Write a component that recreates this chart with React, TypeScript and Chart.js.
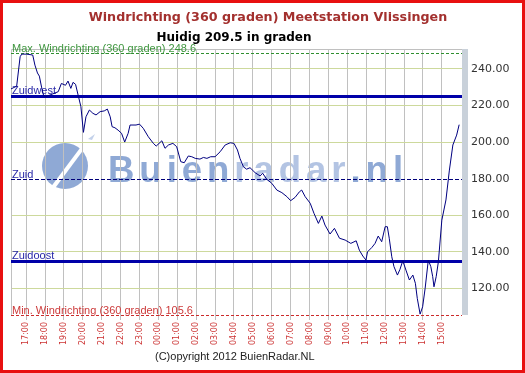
import React, { useEffect, useRef } from "react";
import { Chart, registerables } from "chart.js";

Chart.register(...registerables);

const titleText = "Windrichting (360 graden) Meetstation Vlissingen";
const subtitleText = "Huidig 209.5 in graden";
const copyrightText = "(C)opyright 2012 BuienRadar.NL";
const watermarkParts = ["Buien", "radar", ".nl"];

// minutes since 16:00 of the first day
const minutes = [
  12, 30, 41, 46, 62, 81, 88, 96, 102, 109, 115, 123, 162, 172, 185, 193, 202, 209, 217, 225,
  234, 242, 250, 261, 272, 282, 295, 308, 318, 327, 333, 342, 352, 363, 373, 384, 390, 409, 420, 432,
  448, 464, 473, 491, 501, 512, 526, 538, 551, 562, 575, 586, 597, 612, 623, 634, 646, 660, 676, 692,
  708, 720, 731, 739, 750, 760, 771, 787, 803, 811, 824, 840, 856, 872, 888, 900, 914, 928, 935, 946,
  962, 974, 988, 999, 1009, 1025, 1039, 1055, 1073, 1091, 1108, 1118, 1129, 1139, 1144, 1158, 1168, 1178, 1189, 1200,
  1207, 1213, 1221, 1228, 1239, 1247, 1256, 1266, 1277, 1288, 1296, 1302, 1311, 1319, 1327, 1337, 1345, 1351, 1355, 1362,
  1369, 1380, 1393, 1404, 1415, 1427, 1435,
];

const directions = [
  229, 230.5, 246.6, 248, 248, 247.5, 242, 237.7, 236, 230, 225.7, 224.8, 227.5, 232, 231, 233.3, 229.3, 232.6, 231.5, 225.7,
  219.3, 205.3, 213.8, 217.5, 215.7, 214.8, 216.6, 217, 218, 213.8, 208.4, 207.8, 206.5, 204.8, 200, 204.8, 209.3, 209.3, 209.8, 207.5,
  202.9, 199.3, 197.8, 200.7, 196.6, 198.4, 199.3, 197.5, 189.3, 188.7, 192.4, 192, 191.1, 190.7, 191.6, 191.1, 192, 192, 194.7, 198.4,
  199.6, 199.3, 195.7, 191.1, 186.5, 185.2, 186, 183.3, 181.5, 183, 179.7, 177.5, 173.8, 172.4, 170.2, 168, 169.8, 172.9, 173.8, 170.2,
  166.6, 161.1, 155.6, 159.6, 154.7, 149.8, 152.9, 147.5, 146.5, 144.7, 146.1, 141, 137.8, 135.6, 140.1, 142.5, 144.7, 148.7, 145.6, 153.8,
  153.8, 147.5, 137.4, 132, 127.4, 130.5, 135.2, 130.1, 124.7, 127.4, 122.9, 114.7, 106.1, 110.1, 120.2, 135.6, 132, 126.5, 121, 126.5,
  134.7, 157.4, 168.4, 184.7, 198.4, 203.8, 209.5,
];

const hourTicks = [
  60, 120, 180, 240, 300, 360, 420, 480, 540, 600, 660, 720, 780, 840, 900, 960, 1020, 1080, 1140, 1200,
  1260, 1320, 1380,
];
const hourLabels = [
  "17:00", "18:00", "19:00", "20:00", "21:00", "22:00", "23:00", "00:00", "01:00", "02:00", "03:00", "04:00",
  "05:00", "06:00", "07:00", "08:00", "09:00", "10:00", "11:00", "12:00", "13:00", "14:00", "15:00",
];
const yTicks = [120, 140, 160, 180, 200, 220, 240];

const refValues = [248.6, 225, 180, 135, 105.6];
const refLabels = [
  "Max. Windrichting (360 graden) 248.6",
  "Zuidwest",
  "Zuid",
  "Zuidoost",
  "Min. Windrichting (360 graden) 105.6",
];
const refStyles = [
  { line: "#2f8f2f", text: "#3f963f", width: 1, dash: [3, 2] },
  { line: "#0000a8", text: "#2828a8", width: 3, dash: [] },
  { line: "#00007a", text: "#2828a8", width: 1, dash: [4, 2] },
  { line: "#0000a8", text: "#2828a8", width: 3, dash: [] },
  { line: "#cc2a2a", text: "#cc3a3a", width: 1, dash: [3, 2] },
];

const decorPlugin = {
  id: "decor",
  beforeDraw(chart: any) {
    const ctx = chart.ctx;
    ctx.save();
    ctx.fillStyle = "#ffffff";
    ctx.fillRect(0, 0, chart.width, chart.height);
    // watermark logo
    ctx.fillStyle = "#8fa9d5";
    ctx.beginPath();
    ctx.arc(65, 166, 23, 0, Math.PI * 2);
    ctx.fill();
    ctx.fillStyle = "#ffffff";
    ctx.beginPath();
    ctx.moveTo(50, 188);
    ctx.lineTo(86, 140);
    ctx.lineTo(93, 137);
    ctx.lineTo(56, 187);
    ctx.closePath();
    ctx.fill();
    ctx.fillStyle = "#c3d1ea";
    ctx.beginPath();
    ctx.moveTo(88, 139);
    ctx.lineTo(95, 134);
    ctx.lineTo(92, 140);
    ctx.closePath();
    ctx.fill();
    // watermark text
    ctx.font = "bold 37px 'Liberation Sans'";
    (ctx as any).letterSpacing = "5px";
    ctx.textBaseline = "alphabetic";
    ctx.textAlign = "left";
    const widths = watermarkParts.map((p) => ctx.measureText(p).width);
    const total = widths.reduce((s, w) => s + w, 0);
    const sx = 300 / total;
    ctx.translate(108, 182);
    ctx.scale(sx, 1);
    const colors = ["#8fa9d5", "#b3c4e3", "#8fa9d5"];
    let off = 0;
    watermarkParts.forEach((p, i) => {
      ctx.fillStyle = colors[i];
      ctx.fillText(p, off, 0);
      off += widths[i];
    });
    ctx.restore();
  },
  beforeDatasetsDraw(chart: any) {
    const ctx = chart.ctx;
    const a = chart.chartArea;
    const y = chart.scales.y;
    ctx.save();
    // plot frame left/top
    ctx.strokeStyle = "#c0c0c0";
    ctx.lineWidth = 1;
    ctx.beginPath();
    ctx.moveTo(a.left + 0.5, a.bottom);
    ctx.lineTo(a.left + 0.5, a.top + 0.5);
    ctx.lineTo(a.right, a.top + 0.5);
    ctx.stroke();
    // gray bar right
    ctx.fillStyle = "#c9d1da";
    ctx.fillRect(a.right, a.top, 6, a.bottom - a.top);
    // reference lines
    ctx.font = "11px 'Liberation Sans'";
    ctx.textAlign = "left";
    ctx.textBaseline = "alphabetic";
    refValues.forEach((v, i) => {
      const st = refStyles[i];
      let py = y.getPixelForValue(v);
      py = st.width % 2 === 1 ? Math.round(py) + 0.5 : Math.round(py);
      ctx.strokeStyle = st.line;
      ctx.lineWidth = st.width;
      ctx.setLineDash(st.dash);
      ctx.beginPath();
      ctx.moveTo(a.left, py);
      ctx.lineTo(a.right, py);
      ctx.stroke();
      ctx.setLineDash([]);
      ctx.fillStyle = st.text;
      ctx.fillText(refLabels[i], a.left + 1, py - (st.width > 1 ? 3 : 2));
    });
    ctx.restore();
  },
  afterDraw(chart: any) {
    const ctx = chart.ctx;
    ctx.save();
    ctx.textAlign = "center";
    ctx.textBaseline = "alphabetic";
    ctx.fillStyle = "#a3302e";
    ctx.font = "bold 12.7px 'DejaVu Sans'";
    ctx.fillText(titleText, 268, 21);
    ctx.fillStyle = "#000000";
    ctx.font = "bold 12px 'DejaVu Sans'";
    ctx.fillText(subtitleText, 234, 41);
    ctx.textAlign = "left";
    ctx.fillStyle = "#222222";
    ctx.font = "11px 'Liberation Sans'";
    ctx.fillText(copyrightText, 155, 360);
    ctx.strokeStyle = "#e81010";
    ctx.lineWidth = 3;
    ctx.strokeRect(1.5, 1.5, chart.width - 3, chart.height - 3);
    ctx.restore();
  },
};

export default function App() {
  const ref = useRef<HTMLCanvasElement | null>(null);
  useEffect(() => {
    if (!ref.current) return;
    const points = minutes.map((m, i) => ({ x: m, y: directions[i] }));
    const chart = new Chart(ref.current, {
      type: "line",
      data: {
        datasets: [
          {
            data: points,
            borderColor: "#000080",
            borderWidth: 1,
            pointRadius: 0,
            tension: 0,
            fill: false,
          },
        ],
      },
      options: {
        responsive: false,
        animation: false,
        events: [],
        layout: { padding: { left: 11, top: 49, right: 0, bottom: 0 } },
        plugins: { legend: { display: false }, tooltip: { enabled: false }, title: { display: false } },
        scales: {
          x: {
            type: "linear",
            min: 12,
            max: 1444,
            afterBuildTicks: (s: any) => {
              s.ticks = hourTicks.map((v) => ({ value: v }));
            },
            afterFit: (s: any) => {
              s.height = 58;
            },
            ticks: {
              autoSkip: false,
              maxRotation: 90,
              minRotation: 90,
              color: "#cc3333",
              padding: 2,
              font: { family: "DejaVu Sans", size: 8 },
              callback: (v: any) => {
                const i = hourTicks.indexOf(Number(v));
                return i >= 0 ? hourLabels[i] : "";
              },
            },
            grid: { color: "#c0c0c0", lineWidth: 1, drawTicks: true, tickLength: 5 },
            border: { display: false },
          },
          y: {
            position: "right",
            min: 105.6,
            max: 250.8,
            afterBuildTicks: (s: any) => {
              s.ticks = yTicks.map((v) => ({ value: v }));
            },
            afterFit: (s: any) => {
              s.width = 63;
            },
            ticks: {
              color: "#333333",
              padding: 9,
              font: { family: "DejaVu Sans", size: 11 },
              callback: (v: any) => Number(v).toFixed(2),
            },
            grid: {
              color: (c: any) => (c.tick && c.tick.value === 180 ? "rgba(0,0,0,0)" : "#cdd99c"),
              lineWidth: 1,
              drawTicks: false,
            },
            border: { display: false },
          },
        },
      },
      plugins: [decorPlugin],
    } as any);
    return () => chart.destroy();
  }, []);
  return (
    <div style={{ position: "absolute", left: 0, top: 0, width: 525, height: 373 }}>
      <canvas ref={ref} width={525} height={373} style={{ display: "block", width: 525, height: 373 }} />
    </div>
  );
}
